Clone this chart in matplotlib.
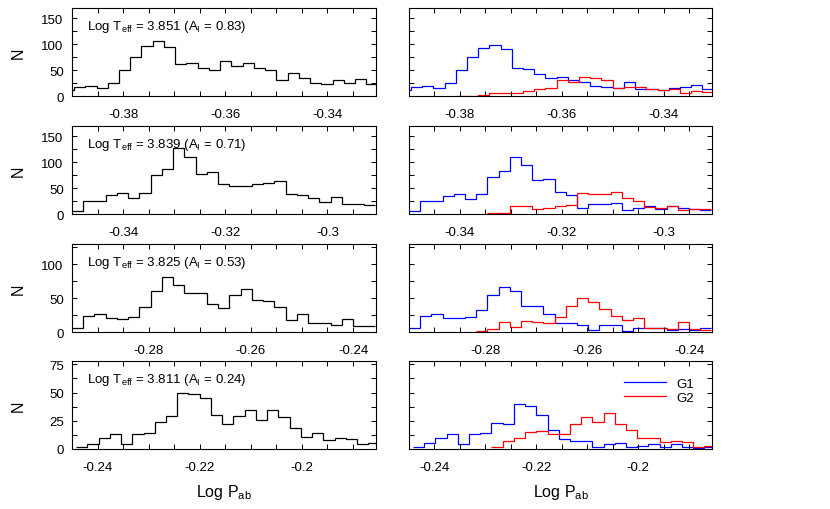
import numpy as np
import matplotlib.pyplot as plt
from matplotlib.lines import Line2D
from matplotlib.ticker import MultipleLocator, FuncFormatter

plt.rcParams['font.family'] = ['Liberation Sans', 'DejaVu Sans']
plt.rcParams['mathtext.fontset'] = 'custom'
plt.rcParams['mathtext.rm'] = 'Liberation Sans'
plt.rcParams['mathtext.it'] = 'Liberation Sans:italic'

nan = np.nan

# labels of each row
log_teff = ['3.851', '3.839', '3.825', '3.811']
a_i = ['0.83', '0.71', '0.53', '0.24']

# histogram counts (nan = no bin drawn)
total_1 = [11, 18, 19, 16, 26, 51, 76, 96, 106, 95, 62, 64, 55, 50, 67, 58, 64, 54, 50, 31,
           45, 34, 26, 24, 31, 26, 32, 24]
g1_1 = [11, 18, 19, 16, 26, 50, 75, 93, 98, 90, 54, 53, 42, 34, 36, 30, 28, 19, 17, 15,
        28, 14, 13, 12, 15, 18, 21, 14]
g2_1 = [nan, nan, nan, nan, nan, 0, 0, 2, 6, 5, 6, 10, 14, 16, 31, 27, 36, 34, 31, 15,
        18, 18, 13, 12, 14, 6, 10, 8]

total_2 = [5, 26, 26, 36, 40, 31, 40, 76, 87, 127, 111, 77, 81, 57, 55, 54, 57, 59, 64, 39,
           36, 30, 23, 33, 20, 19, 18]
g1_2 = [5, 25, 25, 35, 39, 29, 38, 72, 84, 110, 94, 66, 68, 42, 36, 12, 19, 20, 21, 8,
        11, 15, 9, 15, 11, 10, 8]
g2_2 = [nan, nan, nan, nan, nan, nan, nan, 2, 2, 16, 15, 10, 12, 15, 18, 41, 38, 39, 42, 31,
        26, 13, 11, 16, 8, 10, 9]

total_3 = [6, 24, 27, 21, 19, 22, 37, 60, 81, 69, 57, 58, 42, 36, 55, 63, 48, 46, 37, 18,
           27, 13, 13, 11, 19, 9, 9]
g1_3 = [6, 24, 27, 21, 20, 22, 33, 54, 66, 60, 39, 39, 27, 13, 13, 11, 3, 10, 11, 1,
        6, 6, 6, 3, 4, 3, 6]
g2_3 = [nan, nan, nan, nan, nan, nan, 2, 4, 15, 8, 16, 15, 13, 22, 39, 50, 44, 34, 24, 17,
        21, 6, 6, 4, 15, 4, 3]

total_4 = [2, 4, 10, 13, 4, 13, 14, 24, 29, 50, 49, 45, 30, 22, 29, 35, 26, 35, 28, 19,
           11, 14, 8, 10, 9, 4, 5]
g1_4 = [2, 5, 10, 13, 4, 13, 14, 23, 22, 40, 38, 30, 17, 9, 7, 7, 2, 4, 5, 2,
        3, 4, 2, 4, 2, 1, 2]
g2_4 = [nan, nan, nan, nan, nan, nan, nan, 2, 7, 10, 15, 16, 13, 13, 22, 28, 24, 32, 22, 17,
        10, 10, 6, 7, 6, 2, 3]

totals = [total_1, total_2, total_3, total_4]
g1 = [g1_1, g1_2, g1_3, g1_4]
g2 = [g2_1, g2_2, g2_3, g2_4]

# binning / axis ranges
x_min = [-0.3900, -0.3500, -0.2950, -0.2450]
first_edge = [-0.3918, -0.3500, -0.2950, -0.2442]
bin_width = 0.0022
x_span = 0.0595
y_max = [170, 170, 130, 78]
y_step = [50, 50, 50, 25]


def histo(ax, counts, edges, color):
    counts = np.asarray(counts, float)
    i0 = int(np.argmax(~np.isnan(counts)))
    ax.stairs(counts[i0:], edges[i0:], color=color, lw=0.9, baseline=None)


def style_axis(ax, row, labels):
    ax.set_xlim(x_min[row], x_min[row] + x_span)
    ax.set_ylim(0, y_max[row])
    ax.xaxis.set_major_locator(MultipleLocator(0.02))
    ax.xaxis.set_minor_locator(MultipleLocator(0.005))
    ax.xaxis.set_major_formatter(FuncFormatter(lambda v, p: '%g' % round(v, 4)))
    ax.yaxis.set_major_locator(MultipleLocator(y_step[row]))
    ax.yaxis.set_minor_locator(MultipleLocator(y_step[row] / 2))
    ax.tick_params(which='both', direction='in', top=True, right=True,
                   length=3.5, width=0.7, labelsize=9.5, pad=6)
    ax.tick_params(axis='x', pad=8.5)
    if not labels:
        ax.tick_params(labelleft=False)
    for s in ax.spines.values():
        s.set_linewidth(0.8)


fig = plt.figure(figsize=(8.3, 5.1), dpi=100)
tops = [9, 127, 245, 362]
h = 88

for row in range(4):
    bottom = 1 - (tops[row] + h) / 510
    axl = fig.add_axes([72 / 830, bottom, 304 / 830, h / 510])
    axr = fig.add_axes([409 / 830, bottom, 303 / 830, h / 510])

    n = len(totals[row])
    edges = first_edge[row] + bin_width * np.arange(n + 1)

    histo(axl, totals[row], edges, 'black')
    histo(axr, g1[row], edges, 'blue')
    histo(axr, g2[row], edges, 'red')

    style_axis(axl, row, True)
    style_axis(axr, row, False)

    axl.text(0.05, 0.8, r'Log T$_{\rm eff}$ = %s (A$_{\rm I}$ = %s)' % (log_teff[row], a_i[row]),
             transform=axl.transAxes, fontsize=9.5, va='center')
    axl.set_ylabel('N', fontsize=11.5)
    axl.yaxis.set_label_coords(-0.152, 0.5)

    if row == 3:
        for ax in (axl, axr):
            ax.set_xlabel(r'Log P$_{\rm ab}$', fontsize=11.5)
            ax.xaxis.set_label_coords(0.5, -0.37)
        handles = [Line2D([], [], color='blue', lw=0.9), Line2D([], [], color='red', lw=0.9)]
        axr.legend(handles, ['G1', 'G2'], loc='upper right', frameon=False, fontsize=9.5,
                   handlelength=3.2, labelspacing=0.1, borderaxespad=0,
                   bbox_to_anchor=(0.96, 0.87))

fig.savefig('out.png', dpi=100)
